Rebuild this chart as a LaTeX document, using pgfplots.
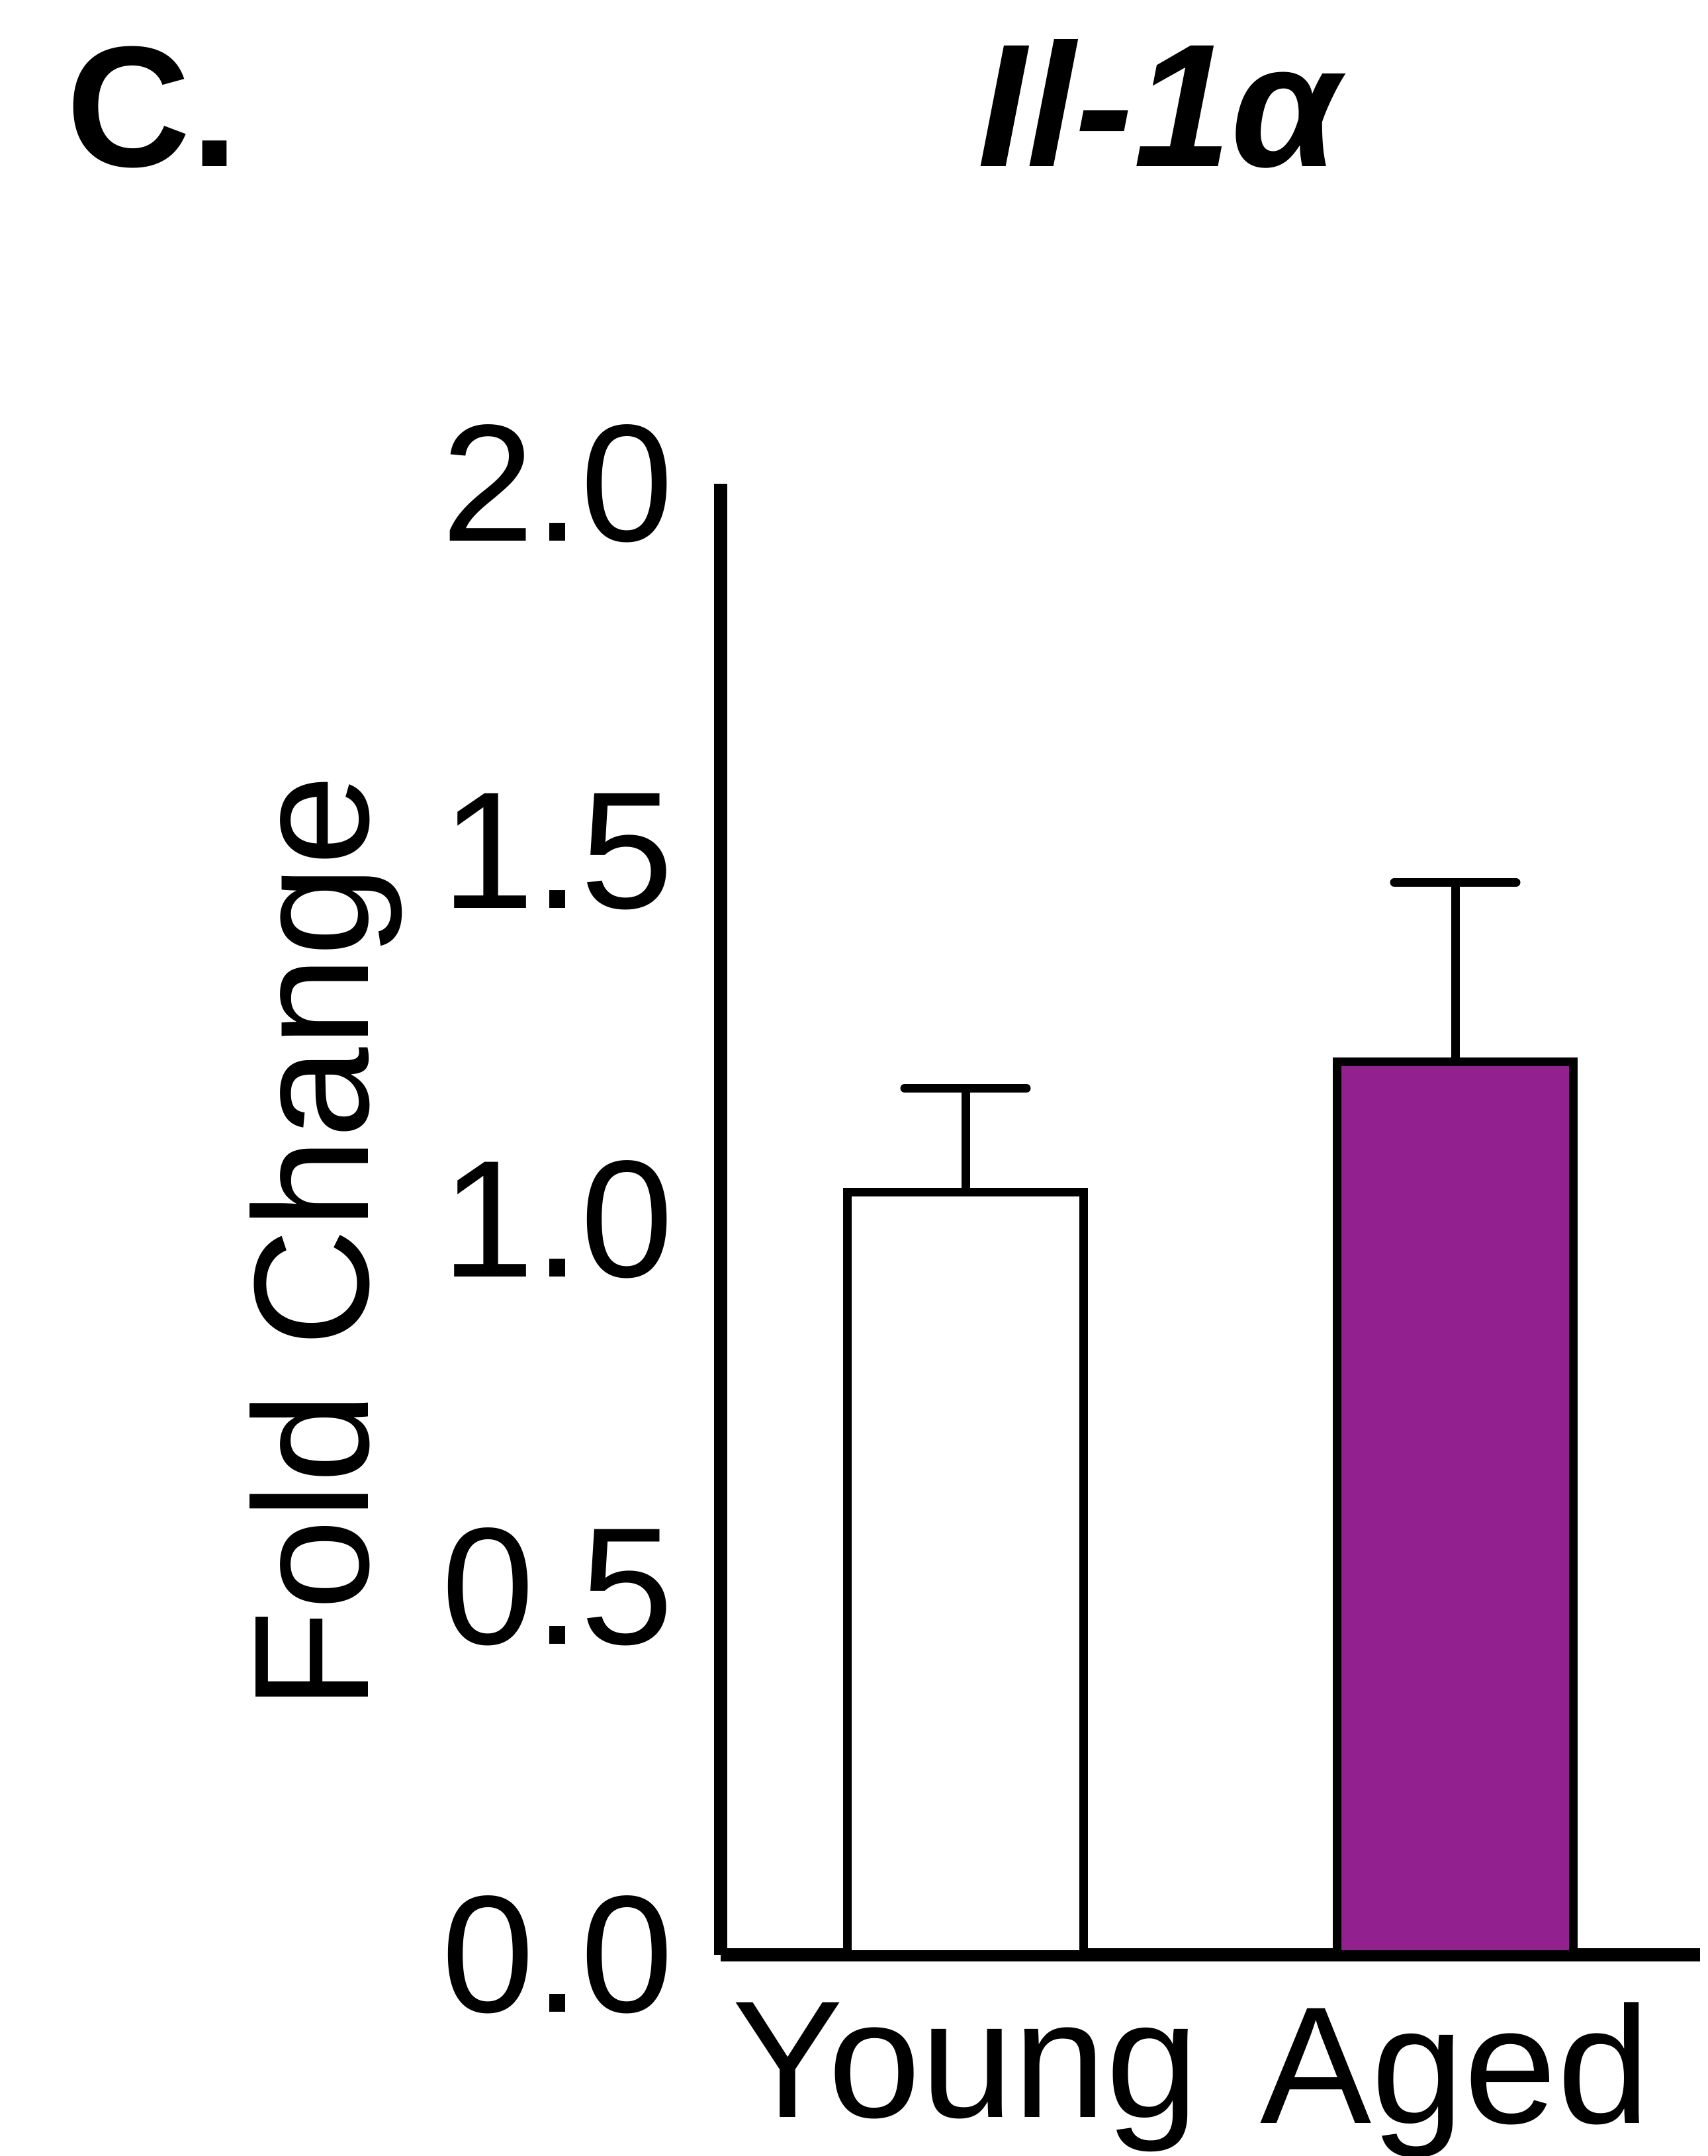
\documentclass[border=0pt]{standalone}
\usepackage{fontspec}
\setmainfont{Liberation Sans}
\usepackage{pgfplots}
\pgfplotsset{compat=1.18}
\definecolor{agedpurple}{RGB}{146,32,143}
\begin{document}
\begin{tikzpicture}
\begin{axis}[
  scale only axis, width=148pt, height=222.3pt,
  xmin=-0.5, xmax=1.5, ymin=0, ymax=2,
  axis lines=left,
  axis line style={-, line width=2pt, line cap=butt},
  every inner x axis line/.append style={-, line width=2pt},
  every inner y axis line/.append style={-, line width=2pt},
  every outer x axis line/.append style={-, line width=2pt},
  every outer y axis line/.append style={-, line width=2pt},
  xtick={0,1}, xticklabels={Young,Aged},
  ytick={0,0.5,1,1.5,2}, yticklabels={0.0,0.5,1.0,1.5,2.0},
  major tick length=0pt, tick style={draw=none},
  tick label style={font=\fontsize{25.2}{30}\selectfont, inner sep=0pt},
  yticklabel style={xshift=-6.9pt, anchor=east},
  xticklabel style={yshift=-7pt, anchor=north},
  /pgf/number format/assume math mode=true,
  every axis y label/.style={at={(axis description cs:-0.3595,0.4843)}, rotate=90, anchor=base, inner sep=0pt, font=\fontsize{24.7}{30}\selectfont},
  ylabel={Fold Change},
  clip=false,
]
\addplot[ybar, bar width=35.7pt, fill=white, draw=black, line width=1.35pt,
  error bars/.cd, y dir=plus, y explicit,
  error bar style={line width=1.3pt, black},
  error mark=|,
  error mark options={mark size=9.2pt, line width=1.3pt, line cap=round, black}]
  coordinates {(0,1.037) +- (0,0.141)};
\addplot[ybar, bar width=35.7pt, fill=agedpurple, draw=black, line width=1.35pt,
  error bars/.cd, y dir=plus, y explicit,
  error bar style={line width=1.3pt, black},
  error mark=|,
  error mark options={mark size=9.2pt, line width=1.3pt, line cap=round, black}]
  coordinates {(1,1.214) +- (0,0.244)};
\node[font=\fontsize{26.5}{30}\selectfont\bfseries\itshape, anchor=base, inner sep=0pt] at (axis description cs:0.4474,1.2155) {Il-1α};
\node[font=\fontsize{26}{30}\selectfont\bfseries, anchor=base west, inner sep=0pt] at (axis description cs:-0.669,1.2155) {C.};
\end{axis}
\pgfresetboundingbox
\path (-108.9pt,-30.4pt) rectangle (149.1pt,295.4pt);
\end{tikzpicture}
\end{document}
